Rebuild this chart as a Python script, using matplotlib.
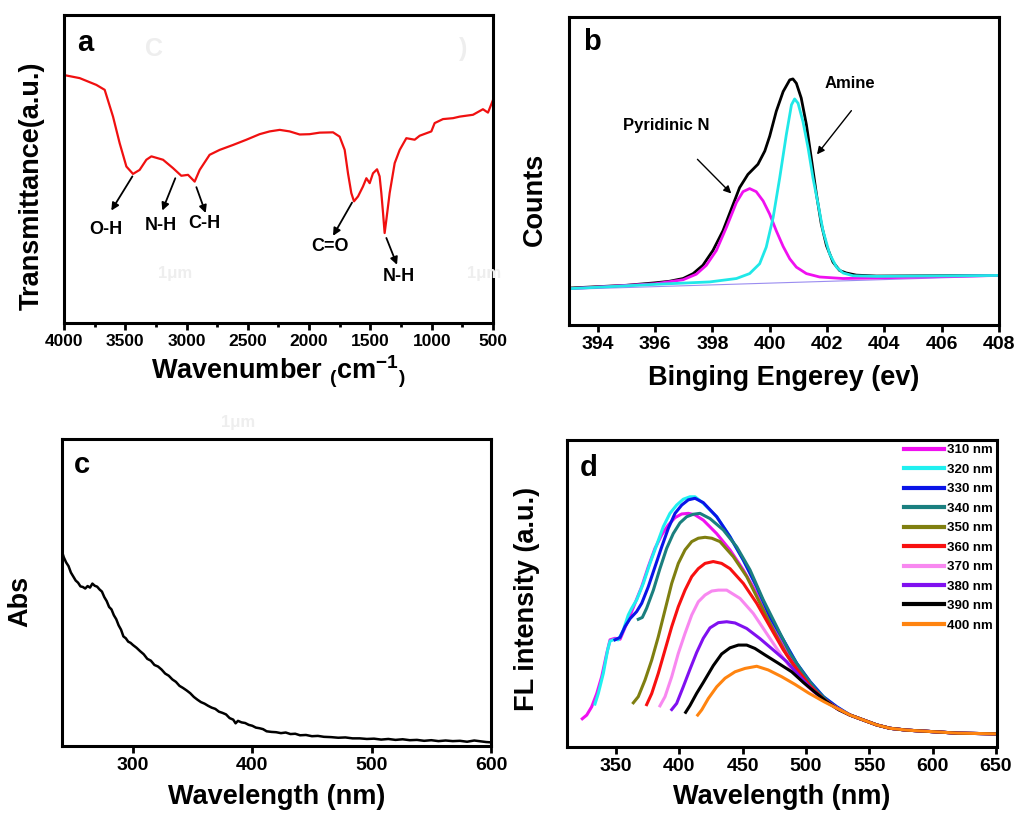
import matplotlib
matplotlib.use('Agg')
import matplotlib.pyplot as plt
from matplotlib.ticker import MultipleLocator

plt.rcParams['font.family'] = ['Liberation Sans', 'DejaVu Sans']
plt.rcParams['font.weight'] = 'bold'
plt.rcParams['mathtext.fontset'] = 'custom'
plt.rcParams['mathtext.rm'] = 'Liberation Sans:bold'
plt.rcParams['mathtext.bf'] = 'Liberation Sans:bold'
plt.rcParams['mathtext.it'] = 'Liberation Sans:bold'
plt.rcParams['mathtext.default'] = 'bf'

# ---------------- (a) FTIR spectrum ----------------
ftir_wn = [4000, 3872, 3736, 3668, 3600, 3546, 3491, 3437, 3383, 3328, 3287,
           3192, 3111, 3043, 2988, 2934, 2893, 2812, 2730, 2621, 2512, 2404,
           2322, 2240, 2159, 2077, 1996, 1914, 1805, 1751, 1710, 1683, 1656,
           1634, 1601, 1561, 1533, 1506, 1479, 1446, 1425, 1411, 1397, 1384,
           1370, 1343, 1302, 1261, 1207, 1139, 1098, 1003, 976, 908, 826,
           772, 663, 582, 541, 500]
ftir_t = [80.5, 79.5, 77.3, 75.7, 67.0, 58.4, 50.8, 48.4, 49.7, 53.0, 54.1,
          53.0, 50.3, 47.8, 48.1, 45.9, 49.7, 54.6, 56.2, 57.8, 59.5, 61.3,
          62.2, 62.7, 62.2, 61.2, 61.3, 61.8, 61.9, 60.5, 56.2, 48.6, 42.2,
          39.5, 41.1, 44.3, 47.0, 45.4, 48.6, 49.9, 47.6, 42.2, 35.7, 29.2,
          33.5, 42.2, 51.9, 56.2, 60.0, 59.5, 60.8, 62.2, 64.9, 66.2, 66.5,
          67.0, 67.6, 69.4, 68.3, 72.4]
ftir_bands = ['O-H', 'N-H', 'C-H', 'C=O', 'N-H']
ftir_text_xy = [(3660, 30.5), (3211, 31.6), (2852, 32.2), (1827, 24.9), (1270, 15.1)]
ftir_arrow_tail = [(3442, 47.6), (3092, 47.0), (2920, 44.1), (1650, 39.1), (1370, 27.6)]
ftir_arrow_head = [(3614, 36.5), (3198, 36.5), (2844, 35.7), (1805, 28.3), (1283, 18.9)]
ftir_ticks = [4000, 3500, 3000, 2500, 2000, 1500, 1000, 500]

# ---------------- (b) N 1s XPS ----------------
xps_total_e = [393.0, 395.0, 396.0, 396.5, 396.98, 397.33, 397.67, 398.02, 398.37,
               398.66, 398.95, 399.24, 399.59, 399.83, 400.0, 400.23, 400.47,
               400.70, 400.81, 400.93, 401.10, 401.28, 401.45, 401.63, 401.80,
               401.98, 402.21, 402.44, 402.67, 403.02, 403.72, 408.0]
xps_total = [12.0, 12.9, 13.7, 14.2, 15.1, 16.7, 19.4, 24.2, 30.6, 37.6, 44.6,
             48.9, 52.2, 56.5, 61.3, 69.4, 75.8, 79.6, 79.9, 78.5, 73.7, 65.1,
             54.3, 42.5, 32.8, 25.8, 20.4, 17.7, 16.9, 16.2, 15.9, 16.1]
xps_pyr_e = [393.0, 396.0, 396.98, 397.44, 397.79, 398.14, 398.49, 398.84, 399.07,
             399.30, 399.53, 399.77, 400.0, 400.23, 400.47, 400.70, 400.93,
             401.28, 401.74, 402.56, 403.72, 408.0]
xps_pyr = [11.8, 13.4, 14.7, 16.5, 19.4, 24.2, 31.7, 39.8, 43.3, 44.3, 43.3,
           40.3, 36.0, 30.6, 25.5, 21.5, 18.8, 16.7, 15.6, 15.1, 15.3, 16.1]
xps_amine_e = [393.0, 396.0, 397.91, 398.84, 399.30, 399.65, 399.88, 400.12,
               400.35, 400.58, 400.76, 400.87, 400.99, 401.16, 401.34, 401.51,
               401.69, 401.86, 402.09, 402.33, 402.56, 402.91, 403.72, 408.0]
xps_amine = [11.8, 13.2, 14.0, 15.1, 16.7, 19.9, 25.3, 34.9, 47.8, 61.8, 71.5,
             73.4, 72.0, 66.1, 57.5, 47.8, 39.2, 30.6, 23.1, 18.8, 16.9, 16.0,
             15.8, 16.1]
xps_bg_e = [393.0, 408.0]
xps_bg = [11.6, 15.9]
xps_ticks = [394, 396, 398, 400, 402, 404, 406, 408]

# ---------------- (c) UV-vis absorption ----------------
uv_wl = [240.5, 242, 244, 246, 248, 250, 252, 254, 256, 258, 260, 262, 264, 266,
         268, 270, 272, 274, 276, 278, 280, 282, 284, 286, 288, 290, 292, 294,
         296, 298, 300, 303, 306, 309, 312, 315, 318, 321, 324, 327, 330, 333,
         336, 339, 342, 345, 348, 351, 354, 357, 360, 363, 366, 369, 372, 375,
         378, 381, 384, 386, 388, 391, 394, 397, 400, 403, 406, 409, 412, 416,
         420, 424, 428, 432, 436, 440, 445, 450, 455, 460, 466, 472, 478, 484,
         490, 496, 502, 508, 514, 520, 526, 532, 538, 544, 550, 556, 562, 568,
         574, 580, 586, 592, 596, 600]
uv_abs = [63.4, 61.5, 59.8, 58.6, 56.5, 55.2, 53.9, 53.2, 52.0, 51.8, 51.3, 52.1,
          51.6, 52.9, 52.2, 51.9, 51.0, 50.3, 48.5, 47.2, 45.3, 44.5, 42.6, 41.3,
          39.3, 37.9, 35.7, 35.1, 34.0, 33.6, 32.9, 32.0, 30.9, 29.9, 28.4, 27.8,
          26.4, 25.9, 24.9, 23.6, 22.9, 21.7, 20.9, 19.6, 18.9, 18.1, 17.2, 16.0,
          15.1, 14.3, 13.8, 13.1, 12.5, 12.1, 11.2, 10.8, 10.3, 9.1, 8.6, 7.4,
          8.2, 7.7, 7.5, 6.9, 6.6, 6.0, 5.8, 5.5, 4.8, 4.6, 4.5, 4.2, 4.4, 3.9,
          4.0, 3.5, 3.6, 3.2, 3.3, 3.0, 2.9, 2.7, 2.8, 2.5, 2.5, 2.3, 2.4, 2.1,
          2.3, 2.0, 2.2, 1.9, 2.0, 1.7, 1.9, 1.6, 1.8, 1.6, 1.7, 1.4, 1.8, 1.5,
          1.3, 1.2]
uv_ticks = [300, 400, 500, 600]

# ---------------- (d) excitation-dependent PL ----------------
pl_labels = ['310 nm', '320 nm', '330 nm', '340 nm', '350 nm',
             '360 nm', '370 nm', '380 nm', '390 nm', '400 nm']
pl_colors = ['#f010f0', '#20f0f0', '#0a14e8', '#1a7f7f', '#7f7f10',
             '#f81010', '#f888f0', '#8010f0', '#000000', '#ff8410']

tail_wl = [534.8, 545.3, 555.8, 566.3, 579.5, 600, 620, 650]
tail_i = [10.4, 8.8, 7.2, 6.1, 5.5, 5.0, 4.5, 4.3]

pl_310_wl = [323.4, 326.9, 330.8, 334.8, 338.7, 342.7, 345.3, 349.2, 353.2, 355.8,
             359.7, 365.0, 370.3, 375.5, 380.8, 386.1, 391.3, 396.6, 401.9, 407.1,
             412.4, 418.9, 429.5, 440.0, 450.5, 461.1, 471.6, 482.1, 492.6, 503.2,
             513.7, 524.3] + tail_wl
pl_310_i = [9.2, 10.4, 13.1, 17.4, 22.9, 30.5, 34.9, 35.4, 35.1, 37.6, 41.4,
            46.8, 52.2, 58.7, 64.7, 69.1, 72.3, 74.7, 75.9, 76.1, 75.6, 73.9,
            69.5, 64.2, 57.7, 50.1, 41.4, 33.8, 26.2, 20.2, 15.8, 12.5] + tail_i
pl_320_wl = [333.4, 336.0, 340.0, 343.4, 345.3, 349.2, 351.8, 355.8, 359.7, 362.4,
             366.3, 371.6, 376.8, 382.1, 387.4, 392.6, 397.9, 403.1, 408.4, 412.4,
             418.9, 429.5, 440.0, 450.5, 461.1, 471.6, 482.1, 492.6, 503.2, 513.7,
             524.3] + tail_wl
pl_320_i = [14.0, 17.4, 24.0, 31.6, 34.5, 35.1, 34.9, 38.1, 43.0, 45.2, 47.9,
            53.3, 59.8, 65.8, 71.8, 76.1, 78.8, 80.7, 81.5, 81.5, 79.4, 75.0,
            68.5, 60.9, 52.2, 42.4, 34.9, 27.3, 21.3, 16.4, 13.1] + tail_i
pl_330_wl = [349.2, 353.2, 357.1, 361.1, 366.3, 370.3, 375.5, 380.8, 386.1, 391.3,
             396.6, 401.9, 407.1, 412.4, 418.9, 429.5, 440.0, 450.5, 461.1, 471.6,
             482.1, 492.6, 503.2, 513.7, 524.3] + tail_wl
pl_330_i = [34.9, 35.7, 39.2, 41.8, 44.1, 46.8, 52.2, 58.7, 65.2, 71.2, 76.1,
            78.8, 80.5, 81.0, 79.6, 75.0, 68.5, 60.9, 52.2, 42.4, 34.9, 27.3,
            21.3, 16.4, 13.1] + tail_i
pl_340_wl = [367.6, 370.8, 374.2, 379.5, 384.7, 390.0, 395.2, 400.5, 405.8, 411.0,
             416.3, 424.2, 434.7, 445.3, 455.8, 466.3, 476.9, 487.4, 497.9, 508.0,
             518.0, 526.0] + tail_wl
pl_340_i = [41.6, 42.2, 45.2, 51.1, 58.1, 64.7, 69.5, 73.0, 75.0, 75.8, 76.1,
            74.4, 70.7, 65.2, 57.7, 47.9, 39.2, 30.5, 24.0, 18.6, 14.6, 12.3] + tail_i
pl_350_wl = [363.7, 367.6, 372.9, 378.2, 383.4, 388.7, 394.0, 399.2, 404.5, 409.8,
             415.0, 420.3, 425.6, 432.1, 442.6, 453.2, 463.7, 474.2, 484.8, 495.0,
             505.0, 515.0, 526.0] + tail_wl
pl_350_i = [14.4, 16.4, 21.8, 28.3, 35.9, 44.6, 53.3, 59.8, 64.2, 66.9, 68.0,
            68.3, 68.0, 66.9, 62.0, 55.5, 46.8, 38.1, 30.0, 23.5, 18.6, 14.9,
            12.3] + tail_i
pl_360_wl = [374.2, 378.2, 383.4, 388.7, 394.0, 399.2, 404.5, 409.8, 415.0, 420.3,
             426.8, 433.4, 440.0, 450.5, 461.1, 471.6, 482.1, 492.6, 503.2, 514.0,
             526.0] + tail_wl
pl_360_i = [13.8, 17.4, 24.0, 31.6, 39.2, 45.7, 51.1, 55.5, 58.1, 59.8, 60.4,
            59.8, 58.1, 53.3, 46.8, 39.2, 31.6, 25.5, 20.0, 15.6, 12.3] + tail_i
pl_370_wl = [384.7, 388.7, 394.0, 399.2, 404.5, 409.8, 415.0, 420.3, 425.6, 430.8,
             437.4, 447.9, 458.4, 468.9, 479.5, 490.0, 502.0, 514.0, 526.0] + tail_wl
pl_370_i = [13.4, 16.4, 22.9, 30.5, 37.0, 43.0, 47.3, 49.5, 50.8, 51.1, 51.1,
            48.4, 43.5, 37.0, 30.5, 24.5, 19.4, 15.3, 12.3] + tail_i
pl_380_wl = [394.0, 397.9, 403.1, 408.4, 413.7, 418.9, 424.2, 430.8, 437.4, 444.0,
             453.2, 463.7, 474.2, 484.8, 495.3, 505.0, 515.0, 526.0] + tail_wl
pl_380_i = [12.2, 14.2, 19.6, 25.3, 30.8, 35.4, 38.8, 40.5, 40.8, 40.4, 38.6,
            35.3, 31.6, 27.8, 22.9, 18.6, 15.0, 12.2] + tail_i
pl_390_wl = [405.0, 408.4, 413.7, 418.9, 426.8, 433.4, 440.0, 446.6, 453.2, 459.7,
             467.6, 478.1, 488.7, 498.0, 507.0, 516.3, 526.0] + tail_wl
pl_390_i = [11.3, 13.5, 17.5, 21.0, 26.5, 30.3, 32.3, 33.2, 33.2, 32.1, 30.0,
            27.3, 24.5, 21.0, 17.9, 14.8, 12.1] + tail_i
pl_400_wl = [414.5, 417.7, 422.9, 429.5, 436.1, 444.0, 451.9, 461.1, 470.2, 480.8,
             491.3, 502.0, 514.0, 526.8] + tail_wl
pl_400_i = [10.4, 12.1, 15.8, 19.6, 22.4, 24.5, 25.6, 26.3, 25.1, 22.9, 20.4,
            17.6, 14.8, 12.1] + tail_i

pl_wl = [pl_310_wl, pl_320_wl, pl_330_wl, pl_340_wl, pl_350_wl,
         pl_360_wl, pl_370_wl, pl_380_wl, pl_390_wl, pl_400_wl]
pl_int = [pl_310_i, pl_320_i, pl_330_i, pl_340_i, pl_350_i,
          pl_360_i, pl_370_i, pl_380_i, pl_390_i, pl_400_i]
pl_ticks = [350, 400, 450, 500, 550, 600, 650]

LABEL_FS = 19.5
TICK_FS = 14
LETTER_FS = 21
GHOST = '#eeeeee'


def frame(ax, tick_fs=TICK_FS):
    for sp in ax.spines.values():
        sp.set_linewidth(2.2)
    ax.tick_params(axis='x', which='major', direction='out', length=5, width=2,
                   labelsize=tick_fs, pad=3)
    ax.tick_params(axis='x', which='minor', direction='out', length=3, width=2)
    ax.tick_params(axis='y', which='both', left=False, labelleft=False)
    for lab in ax.get_xticklabels():
        lab.set_fontweight('bold')


def axis_labels(ax, xlabel, ylabel, xlab_y, ylab_x, ylab_y):
    ax.set_xlabel(xlabel, fontsize=LABEL_FS, fontweight='bold')
    ax.set_ylabel(ylabel, fontsize=LABEL_FS, fontweight='bold')
    ax.xaxis.label.set_verticalalignment('center')
    ax.yaxis.label.set_verticalalignment('center')
    ax.xaxis.set_label_coords(0.5, xlab_y)
    ax.yaxis.set_label_coords(ylab_x, ylab_y)


fig = plt.figure(figsize=(10.19, 8.14), dpi=100)
ax_a = fig.add_axes([0.0628, 0.6032, 0.4210, 0.3784])
ax_b = fig.add_axes([0.5584, 0.6007, 0.4220, 0.3784])
ax_c = fig.add_axes([0.0608, 0.0835, 0.4210, 0.3772])
ax_d = fig.add_axes([0.5564, 0.0823, 0.4220, 0.3772])

# ---- (a)
ax_a.plot(ftir_wn, ftir_t, color='#f01010', lw=1.6)
ax_a.set_xlim(4000, 500)
ax_a.set_ylim(0, 100)
ax_a.set_xticks(ftir_ticks)
ax_a.xaxis.set_minor_locator(MultipleLocator(250))
frame(ax_a, tick_fs=12.5)
for lab, txy, tail, head in zip(ftir_bands, ftir_text_xy, ftir_arrow_tail, ftir_arrow_head):
    ax_a.annotate('', xy=head, xytext=tail,
                  arrowprops=dict(arrowstyle='-|>', color='black', lw=1.3,
                                  mutation_scale=11, shrinkA=0, shrinkB=0))
    ax_a.text(txy[0], txy[1], lab, ha='center', va='center', fontsize=13,
              fontweight='bold')
axis_labels(ax_a, r'Wavenumber $_{(}$cm$^{-1}$$_{)}$', 'Transmittance(a.u.)',
            -0.159, -0.075, 0.445)
ax_a.text(0.049, 0.909, 'a', transform=ax_a.transAxes, ha='center', va='center',
          fontsize=LETTER_FS, fontweight='bold')
ax_a.text(0.21, 0.89, 'C', transform=ax_a.transAxes, ha='center', va='center',
          fontsize=18, color=GHOST)
ax_a.text(0.93, 0.89, ')', transform=ax_a.transAxes, ha='center', va='center',
          fontsize=18, color=GHOST)
ax_a.text(0.26, 0.16, '1μm', transform=ax_a.transAxes, ha='center', va='center',
          fontsize=12, color=GHOST)
ax_a.text(0.98, 0.16, '1μm', transform=ax_a.transAxes, ha='center', va='center',
          fontsize=12, color=GHOST)

# ---- (b)
ax_b.plot(xps_bg_e, xps_bg, color='#9a8cf0', lw=0.8)
ax_b.plot(xps_total_e, xps_total, color='black', lw=2.0)
ax_b.plot(xps_pyr_e, xps_pyr, color='#f010f0', lw=2.0)
ax_b.plot(xps_amine_e, xps_amine, color='#20e8e8', lw=2.0)
ax_b.set_xlim(393, 408)
ax_b.set_ylim(0, 100)
ax_b.set_xticks(xps_ticks)
frame(ax_b)
ax_b.annotate('', xy=(398.66, 42.7), xytext=(397.48, 53.8),
              arrowprops=dict(arrowstyle='-|>', color='black', lw=1.0,
                              mutation_scale=11, shrinkA=0, shrinkB=0))
ax_b.annotate('', xy=(401.65, 55.4), xytext=(402.85, 69.6),
              arrowprops=dict(arrowstyle='-|>', color='black', lw=1.0,
                              mutation_scale=11, shrinkA=0, shrinkB=0))
ax_b.text(396.4, 64.8, 'Pyridinic N', ha='center', va='center', fontsize=12,
          fontweight='bold')
ax_b.text(402.79, 78.5, 'Amine', ha='center', va='center', fontsize=12,
          fontweight='bold')
axis_labels(ax_b, 'Binging Engerey (ev)', 'Counts', -0.172, -0.079, 0.409)
ax_b.text(0.053, 0.919, 'b', transform=ax_b.transAxes, ha='center', va='center',
          fontsize=LETTER_FS, fontweight='bold')

# ---- (c)
ax_c.plot(uv_wl, uv_abs, color='black', lw=1.8)
ax_c.set_xlim(240.5, 600)
ax_c.set_ylim(0, 100)
ax_c.set_xticks(uv_ticks)
frame(ax_c)
axis_labels(ax_c, 'Wavelength (nm)', 'Abs', -0.166, -0.098, 0.472)
ax_c.text(0.047, 0.915, 'c', transform=ax_c.transAxes, ha='center', va='center',
          fontsize=LETTER_FS, fontweight='bold')
ax_c.text(0.41, 1.055, '1μm', transform=ax_c.transAxes, ha='center', va='center',
          fontsize=12, color=GHOST, clip_on=False)

# ---- (d)
for wl, inten, col, lab in zip(pl_wl, pl_int, pl_colors, pl_labels):
    ax_d.plot(wl, inten, color=col, lw=2.2, label=lab)
ax_d.set_xlim(311.3, 650.8)
ax_d.set_ylim(0, 100)
ax_d.set_xticks(pl_ticks)
frame(ax_d)
leg = ax_d.legend(loc='upper right', bbox_to_anchor=(1.0, 1.0), frameon=False,
                  prop={'size': 9.5, 'weight': 'bold'}, handlelength=3.0,
                  handletextpad=0.25, labelspacing=0.55, borderpad=0.2,
                  borderaxespad=0.1)
for line in leg.get_lines():
    line.set_linewidth(3)
axis_labels(ax_d, 'Wavelength (nm)', 'FL intensity (a.u.)', -0.163, -0.093, 0.482)
ax_d.text(0.051, 0.909, 'd', transform=ax_d.transAxes, ha='center', va='center',
          fontsize=LETTER_FS, fontweight='bold')

fig.savefig('out.png', dpi=100)
